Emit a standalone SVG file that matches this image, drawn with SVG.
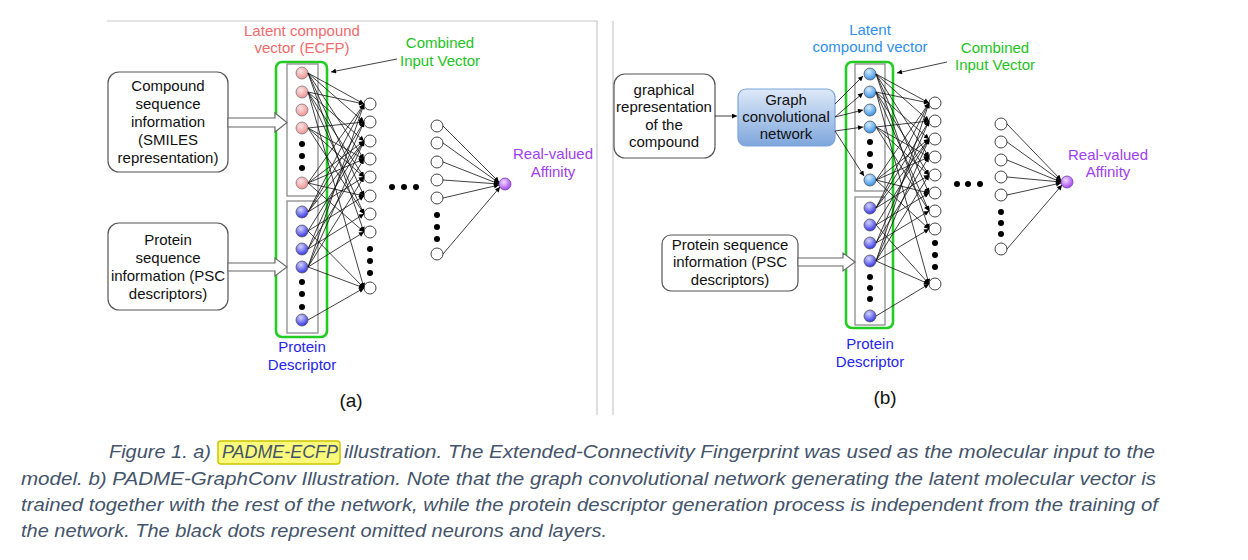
<svg xmlns="http://www.w3.org/2000/svg" width="1248" height="560" viewBox="0 0 1248 560">
<style>
.lbl{font-family:"Liberation Sans",Arial,sans-serif;font-size:15px;text-anchor:middle;fill:#111}
.box{fill:#fff;stroke:#555;stroke-width:1.2}
.hid{fill:#fff;stroke:#444;stroke-width:1}
.dot{fill:#000}
.con line{stroke:#111;stroke-width:0.8;marker-end:url(#ah)}
.green{fill:none;stroke:#22cc22;stroke-width:2.6}
.inner{fill:none;stroke:#8c8c8c;stroke-width:1.3}
.hollow{fill:#fff;stroke:#666;stroke-width:1.1}
.pink{fill:url(#gPink);stroke:#777;stroke-width:0.8}
.blue{fill:url(#gBlue);stroke:#555;stroke-width:0.8}
.lblue{fill:url(#gLBlue);stroke:#555;stroke-width:0.8}
.cap{font-family:"Liberation Sans",Arial,sans-serif;font-style:italic;font-size:19px;fill:#44546a}
.border{stroke:#c8c8c8;stroke-width:1.2;fill:none}
</style>
<defs>
<marker id="ah" viewBox="0 0 10 10" refX="10" refY="5" markerWidth="6" markerHeight="5" markerUnits="userSpaceOnUse" orient="auto"><path d="M0,0 L10,5 L0,10 z" fill="#000"/></marker>
<radialGradient id="gPink" cx="0.4" cy="0.35" r="0.7"><stop offset="0" stop-color="#ffe4e4"/><stop offset="1" stop-color="#ee8c8c"/></radialGradient>
<radialGradient id="gBlue" cx="0.4" cy="0.3" r="0.75"><stop offset="0" stop-color="#d4d4ff"/><stop offset="1" stop-color="#2a2ae6"/></radialGradient>
<radialGradient id="gLBlue" cx="0.4" cy="0.3" r="0.75"><stop offset="0" stop-color="#d6ecff"/><stop offset="1" stop-color="#2b8be6"/></radialGradient>
<radialGradient id="gPurple" cx="0.4" cy="0.35" r="0.75"><stop offset="0" stop-color="#f0dcff"/><stop offset="1" stop-color="#9a30ee"/></radialGradient>
<linearGradient id="gGcn" x1="0" y1="0" x2="0" y2="1"><stop offset="0" stop-color="#dde9f8"/><stop offset="1" stop-color="#7ea6dc"/></linearGradient>
</defs>
<rect width="1248" height="560" fill="#fff"/>

<g id="borders">
<path class="border" d="M107,21 H597 V415"/>
<path class="border" d="M613,21 V415" stroke="#b8b8b8"/>
</g>

<!-- ===== Panel (a) ===== -->
<g id="a-compound-box">
<rect class="box" x="108" y="72" width="120" height="100" rx="11"/>
<text class="lbl" x="168" y="91">Compound</text>
<text class="lbl" x="168" y="109">sequence</text>
<text class="lbl" x="168" y="127">information</text>
<text class="lbl" x="168" y="145">(SMILES</text>
<text class="lbl" x="168" y="163">representation)</text>
</g>
<g id="a-protein-box">
<rect class="box" x="108" y="223" width="120" height="87" rx="11"/>
<text class="lbl" x="168" y="245">Protein</text>
<text class="lbl" x="168" y="263">sequence</text>
<text class="lbl" x="168" y="281">information (PSC</text>
<text class="lbl" x="168" y="299">descriptors)</text>
</g>
<g id="a-input-vector">
<rect class="green" x="276" y="62" width="51" height="275" rx="6"/>
<rect class="inner" x="287" y="64" width="31" height="132"/>
<rect class="inner" x="287" y="201" width="31" height="132"/>
<circle class="pink" cx="302" cy="73" r="6"/>
<circle class="pink" cx="302" cy="92" r="6"/>
<circle class="pink" cx="302" cy="110" r="6"/>
<circle class="pink" cx="302" cy="128" r="6"/>
<circle class="dot" cx="302" cy="144" r="3"/>
<circle class="dot" cx="302" cy="156" r="3"/>
<circle class="dot" cx="302" cy="168" r="3"/>
<circle class="pink" cx="302" cy="183" r="6"/>
<circle class="blue" cx="302" cy="212" r="6"/>
<circle class="blue" cx="302" cy="231" r="6"/>
<circle class="blue" cx="302" cy="249" r="6"/>
<circle class="blue" cx="302" cy="267" r="6"/>
<circle class="dot" cx="302" cy="282" r="3"/>
<circle class="dot" cx="302" cy="294" r="3"/>
<circle class="dot" cx="302" cy="307" r="3"/>
<circle class="blue" cx="302" cy="320" r="6"/>
</g>
<g id="a-hidden-1">
<circle class="hid" cx="370" cy="104" r="6"/>
<circle class="hid" cx="370" cy="122" r="6"/>
<circle class="hid" cx="370" cy="141" r="6"/>
<circle class="hid" cx="370" cy="159" r="6"/>
<circle class="hid" cx="370" cy="177" r="6"/>
<circle class="hid" cx="370" cy="196" r="6"/>
<circle class="hid" cx="370" cy="214" r="6"/>
<circle class="hid" cx="370" cy="232" r="6"/>
<circle class="dot" cx="370" cy="249" r="3"/>
<circle class="dot" cx="370" cy="261" r="3"/>
<circle class="dot" cx="370" cy="273" r="3"/>
<circle class="hid" cx="370" cy="288" r="6"/>
</g>
<g id="a-omitted-layers">
<circle class="dot" cx="392" cy="187" r="3"/>
<circle class="dot" cx="404" cy="187" r="3"/>
<circle class="dot" cx="416" cy="187" r="3"/>
</g>
<g id="a-hidden-n">
<circle class="hid" cx="437" cy="126" r="6"/>
<circle class="hid" cx="437" cy="143" r="6"/>
<circle class="hid" cx="437" cy="162" r="6"/>
<circle class="hid" cx="437" cy="180" r="6"/>
<circle class="hid" cx="437" cy="198" r="6"/>
<circle class="dot" cx="437" cy="215" r="3"/>
<circle class="dot" cx="437" cy="227" r="3"/>
<circle class="dot" cx="437" cy="239" r="3"/>
<circle class="hid" cx="437" cy="254" r="6"/>
</g>
<g id="a-output">
<circle cx="505" cy="184" r="6" fill="url(#gPurple)" stroke="#7a3ab0" stroke-width="0.8"/>
<text class="lbl" x="553" y="159" style="fill:#a040f0">Real-valued</text>
<text class="lbl" x="553" y="177" style="fill:#a040f0">Affinity</text>
</g>
<g id="a-labels">
<text class="lbl" x="302" y="36" style="fill:#f26a6a">Latent compound</text>
<text class="lbl" x="302" y="53" style="fill:#f26a6a">vector (ECFP)</text>
<text class="lbl" x="440" y="48" style="fill:#22c422">Combined</text>
<text class="lbl" x="440" y="66" style="fill:#22c422">Input Vector</text>
<text class="lbl" x="302" y="352" style="fill:#2424ee">Protein</text>
<text class="lbl" x="302" y="370" style="fill:#2424ee">Descriptor</text>
<text class="lbl" x="351" y="407" style="font-size:19px">(a)</text>
</g>

<!-- ===== Panel (b) ===== -->
<g id="b-graph-box">
<rect class="box" x="614" y="74" width="101" height="84" rx="11"/>
<text class="lbl" x="664" y="95">graphical</text>
<text class="lbl" x="664" y="112">representation</text>
<text class="lbl" x="664" y="130">of the</text>
<text class="lbl" x="664" y="147">compound</text>
</g>
<g id="b-gcn">
<rect x="738" y="89" width="97" height="57" rx="8" fill="url(#gGcn)" stroke="#7aa5da" stroke-width="1.2"/>
<text class="lbl" x="786" y="105">Graph</text>
<text class="lbl" x="786" y="122">convolutional</text>
<text class="lbl" x="786" y="139">network</text>
</g>
<g id="b-protein-box">
<rect class="box" x="662" y="235" width="136" height="56" rx="9"/>
<text class="lbl" x="730" y="250">Protein sequence</text>
<text class="lbl" x="730" y="267">information (PSC</text>
<text class="lbl" x="730" y="285">descriptors)</text>
</g>
<g id="b-input-vector">
<rect class="green" x="846" y="62" width="47" height="266" rx="6"/>
<rect class="inner" x="855" y="64" width="30" height="127"/>
<rect class="inner" x="855" y="197" width="30" height="128"/>
<circle class="lblue" cx="870" cy="74" r="6"/>
<circle class="lblue" cx="870" cy="92" r="6"/>
<circle class="lblue" cx="870" cy="110" r="6"/>
<circle class="lblue" cx="870" cy="127" r="6"/>
<circle class="dot" cx="870" cy="142" r="3"/>
<circle class="dot" cx="870" cy="154" r="3"/>
<circle class="dot" cx="870" cy="166" r="3"/>
<circle class="lblue" cx="870" cy="180" r="6"/>
<circle class="blue" cx="870" cy="208" r="6"/>
<circle class="blue" cx="870" cy="225" r="6"/>
<circle class="blue" cx="870" cy="243" r="6"/>
<circle class="blue" cx="870" cy="261" r="6"/>
<circle class="dot" cx="870" cy="277" r="3"/>
<circle class="dot" cx="870" cy="288" r="3"/>
<circle class="dot" cx="870" cy="299" r="3"/>
<circle class="blue" cx="870" cy="316" r="6"/>
</g>
<g id="b-hidden-1">
<circle class="hid" cx="935" cy="103" r="6"/>
<circle class="hid" cx="935" cy="121" r="6"/>
<circle class="hid" cx="935" cy="139" r="6"/>
<circle class="hid" cx="935" cy="157" r="6"/>
<circle class="hid" cx="935" cy="175" r="6"/>
<circle class="hid" cx="935" cy="193" r="6"/>
<circle class="hid" cx="935" cy="211" r="6"/>
<circle class="hid" cx="935" cy="229" r="6"/>
<circle class="dot" cx="935" cy="243" r="3"/>
<circle class="dot" cx="935" cy="255" r="3"/>
<circle class="dot" cx="935" cy="267" r="3"/>
<circle class="hid" cx="935" cy="284" r="6"/>
</g>
<g id="b-omitted-layers">
<circle class="dot" cx="957" cy="184" r="3"/>
<circle class="dot" cx="968" cy="184" r="3"/>
<circle class="dot" cx="980" cy="184" r="3"/>
</g>
<g id="b-hidden-n">
<circle class="hid" cx="1001" cy="124" r="6"/>
<circle class="hid" cx="1001" cy="142" r="6"/>
<circle class="hid" cx="1001" cy="160" r="6"/>
<circle class="hid" cx="1001" cy="177" r="6"/>
<circle class="hid" cx="1001" cy="195" r="6"/>
<circle class="dot" cx="1001" cy="212" r="3"/>
<circle class="dot" cx="1001" cy="223" r="3"/>
<circle class="dot" cx="1001" cy="234" r="3"/>
<circle class="hid" cx="1001" cy="249" r="6"/>
</g>
<g id="b-output">
<circle cx="1067" cy="182" r="6" fill="url(#gPurple)" stroke="#7a3ab0" stroke-width="0.8"/>
<text class="lbl" x="1108" y="160" style="fill:#a040f0">Real-valued</text>
<text class="lbl" x="1108" y="177" style="fill:#a040f0">Affinity</text>
</g>
<g id="b-labels">
<text class="lbl" x="870" y="35" style="fill:#2f8ff0">Latent</text>
<text class="lbl" x="870" y="52" style="fill:#2f8ff0">compound vector</text>
<text class="lbl" x="995" y="53" style="fill:#22c422">Combined</text>
<text class="lbl" x="995" y="70" style="fill:#22c422">Input Vector</text>
<text class="lbl" x="870" y="349" style="fill:#2424ee">Protein</text>
<text class="lbl" x="870" y="367" style="fill:#2424ee">Descriptor</text>
<text class="lbl" x="885" y="404" style="font-size:19px">(b)</text>
</g>

<!-- ===== Connectors ===== -->
<g id="connectors">
<polygon class="hollow" points="228,118 275,118 275,113 287,122.5 275,132 275,127 228,127"/>
<polygon class="hollow" points="228,263 275,263 275,258 287,267 275,276 275,271 228,271"/>
<polygon class="hollow" points="798,258 843,258 843,253 855,262 843,271 843,266 798,266"/>
<g class="con">
<line x1="397" y1="59" x2="331" y2="72"/>
<line x1="947" y1="62" x2="897" y2="73"/>
<line x1="715" y1="116" x2="737" y2="116"/>
<line x1="835" y1="104" x2="863" y2="76"/>
<line x1="835" y1="117" x2="863" y2="93"/>
<line x1="835" y1="117" x2="863" y2="110"/>
<line x1="835" y1="131" x2="863" y2="127"/>
<line x1="835" y1="131" x2="864" y2="176"/>
<!-- panel a layer 1 -->
<line x1="308" y1="73" x2="364" y2="104"/><line x1="308" y1="73" x2="364" y2="122"/><line x1="308" y1="73" x2="364" y2="159"/><line x1="308" y1="73" x2="364" y2="196"/><line x1="308" y1="73" x2="364" y2="232"/>
<line x1="308" y1="92" x2="364" y2="104"/><line x1="308" y1="92" x2="364" y2="141"/><line x1="308" y1="92" x2="364" y2="177"/><line x1="308" y1="92" x2="364" y2="214"/><line x1="308" y1="92" x2="364" y2="288"/>
<line x1="308" y1="128" x2="364" y2="122"/><line x1="308" y1="128" x2="364" y2="159"/><line x1="308" y1="128" x2="364" y2="177"/><line x1="308" y1="128" x2="364" y2="214"/>
<line x1="308" y1="183" x2="364" y2="104"/><line x1="308" y1="183" x2="364" y2="141"/><line x1="308" y1="183" x2="364" y2="159"/><line x1="308" y1="183" x2="364" y2="196"/><line x1="308" y1="183" x2="364" y2="232"/>
<line x1="308" y1="212" x2="364" y2="104"/><line x1="308" y1="212" x2="364" y2="122"/><line x1="308" y1="212" x2="364" y2="141"/><line x1="308" y1="212" x2="364" y2="177"/>
<line x1="308" y1="231" x2="364" y2="141"/><line x1="308" y1="231" x2="364" y2="196"/><line x1="308" y1="231" x2="364" y2="288"/>
<line x1="308" y1="249" x2="364" y2="122"/><line x1="308" y1="249" x2="364" y2="159"/><line x1="308" y1="249" x2="364" y2="214"/>
<line x1="308" y1="267" x2="364" y2="104"/><line x1="308" y1="267" x2="364" y2="141"/><line x1="308" y1="267" x2="364" y2="177"/><line x1="308" y1="267" x2="364" y2="232"/><line x1="308" y1="267" x2="364" y2="288"/>
<line x1="308" y1="320" x2="364" y2="288"/>
<!-- panel a output -->
<line x1="443" y1="126" x2="499" y2="182"/><line x1="443" y1="143" x2="499" y2="183"/><line x1="443" y1="162" x2="499" y2="184"/><line x1="443" y1="180" x2="499" y2="184"/><line x1="443" y1="198" x2="499" y2="185"/><line x1="443" y1="254" x2="500" y2="187"/>
<!-- panel b layer 1 -->
<line x1="876" y1="74" x2="929" y2="103"/><line x1="876" y1="74" x2="929" y2="121"/><line x1="876" y1="74" x2="929" y2="157"/><line x1="876" y1="74" x2="929" y2="193"/><line x1="876" y1="74" x2="929" y2="229"/>
<line x1="876" y1="92" x2="929" y2="103"/><line x1="876" y1="92" x2="929" y2="139"/><line x1="876" y1="92" x2="929" y2="175"/><line x1="876" y1="92" x2="929" y2="211"/><line x1="876" y1="92" x2="929" y2="284"/>
<line x1="876" y1="127" x2="929" y2="121"/><line x1="876" y1="127" x2="929" y2="157"/><line x1="876" y1="127" x2="929" y2="175"/><line x1="876" y1="127" x2="929" y2="211"/>
<line x1="876" y1="180" x2="929" y2="103"/><line x1="876" y1="180" x2="929" y2="139"/><line x1="876" y1="180" x2="929" y2="157"/><line x1="876" y1="180" x2="929" y2="193"/><line x1="876" y1="180" x2="929" y2="229"/>
<line x1="876" y1="208" x2="929" y2="103"/><line x1="876" y1="208" x2="929" y2="121"/><line x1="876" y1="208" x2="929" y2="139"/><line x1="876" y1="208" x2="929" y2="175"/>
<line x1="876" y1="225" x2="929" y2="139"/><line x1="876" y1="225" x2="929" y2="193"/><line x1="876" y1="225" x2="929" y2="284"/>
<line x1="876" y1="243" x2="929" y2="121"/><line x1="876" y1="243" x2="929" y2="157"/><line x1="876" y1="243" x2="929" y2="211"/>
<line x1="876" y1="261" x2="929" y2="103"/><line x1="876" y1="261" x2="929" y2="139"/><line x1="876" y1="261" x2="929" y2="175"/><line x1="876" y1="261" x2="929" y2="229"/><line x1="876" y1="261" x2="929" y2="284"/>
<line x1="876" y1="316" x2="929" y2="284"/>
<!-- panel b output -->
<line x1="1007" y1="124" x2="1061" y2="180"/><line x1="1007" y1="142" x2="1061" y2="181"/><line x1="1007" y1="160" x2="1061" y2="182"/><line x1="1007" y1="177" x2="1061" y2="182"/><line x1="1007" y1="195" x2="1061" y2="183"/><line x1="1007" y1="249" x2="1062" y2="185"/>
</g>
</g>

<!-- ===== Caption ===== -->
<g id="caption">
<rect x="218" y="441" width="122" height="23" rx="3" fill="#fbf97c" stroke="#cbc600" stroke-width="1.5"/>
<text class="cap" x="109" y="458" textLength="102" lengthAdjust="spacingAndGlyphs">Figure 1. a)</text>
<text class="cap" x="222" y="458" textLength="116" lengthAdjust="spacingAndGlyphs">PADME-ECFP</text>
<text class="cap" x="344" y="458" textLength="811" lengthAdjust="spacingAndGlyphs">illustration. The Extended-Connectivity Fingerprint was used as the molecular input to the</text>
<text class="cap" x="21" y="484.5" textLength="1135" lengthAdjust="spacingAndGlyphs">model. b) PADME-GraphConv Illustration. Note that the graph convolutional network generating the latent molecular vector is</text>
<text class="cap" x="21" y="511" textLength="1137" lengthAdjust="spacingAndGlyphs">trained together with the rest of the network, while the protein descriptor generation process is independent from the training of</text>
<text class="cap" x="21" y="537" textLength="586" lengthAdjust="spacingAndGlyphs">the network. The black dots represent omitted neurons and layers.</text>
</g>
</svg>
